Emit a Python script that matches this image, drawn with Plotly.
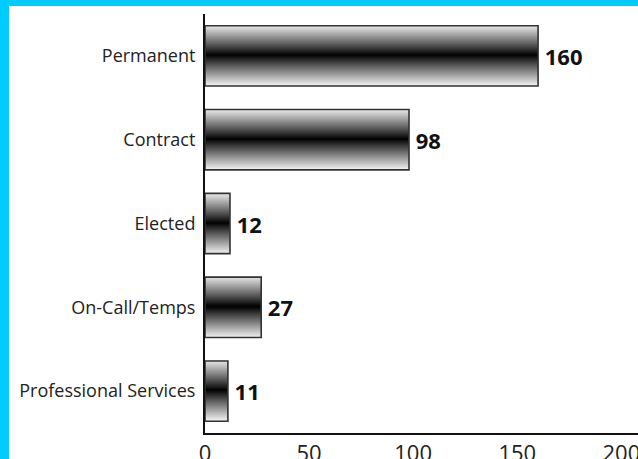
import plotly.graph_objects as go

categories = ["Permanent", "Contract", "Elected", "On-Call/Temps", "Professional Services"]
values = [160, 98, 12, 27, 11]
x_ticks = [0, 50, 100, 150, 200]

BAR_W = 0.72
N_STRIPS = 60
fig = go.Figure()

# gradient strips (light at edges, black in the middle)
sw = BAR_W / N_STRIPS
for i in range(N_STRIPS):
    t = ((i + 0.5) / N_STRIPS) * 2 - 1
    g = int(round(238 * abs(t) ** 0.95))
    fig.add_trace(go.Bar(
        x=values, y=categories, orientation="h",
        width=sw * 1.6, offset=-BAR_W / 2 + i * sw - sw * 0.3,
        marker=dict(color=f"rgb({g},{g},{g})", line=dict(width=0)),
        hoverinfo="skip", showlegend=False,
    ))

# outline + value labels
fig.add_trace(go.Bar(
    x=values, y=categories, orientation="h",
    width=BAR_W, offset=-BAR_W / 2,
    marker=dict(color="rgba(0,0,0,0)", line=dict(color="#333333", width=1.6)),
    text=[f"\u2009{v}" for v in values], textposition="outside",
    textfont=dict(family="Open Sans", size=22, color="#111111", weight="bold"),
    cliponaxis=False, showlegend=False, hoverinfo="skip",
))

L, T, W, H = 205, 14, 638, 459
B = 26
pw = W - L
ph = H - T - B

def px(p):
    return (p - L) / pw

def py(p):
    return (H - B - p) / ph

fig.update_layout(
    width=W, height=H,
    margin=dict(l=L, r=0, t=T, b=B, pad=0, autoexpand=False),
    barmode="overlay",
    paper_bgcolor="white", plot_bgcolor="white",
    showlegend=False,
    xaxis=dict(
        range=[0, 208], tickvals=x_ticks, ticktext=[str(v) for v in x_ticks],
        showgrid=False, zeroline=False, showline=True, linecolor="#111111", linewidth=2,
        ticks="", automargin=False, ticklabeloverflow="allow",
        tickfont=dict(family="Open Sans", size=22, color="#222222"),
    ),
    yaxis=dict(
        categoryorder="array", categoryarray=categories,
        range=[4.5, -0.5], showgrid=False, zeroline=False,
        showline=True, linecolor="#111111", linewidth=2,
        ticks="", ticklabelstandoff=4, automargin=False,
        tickfont=dict(family="Open Sans", size=18, color="#222222"),
    ),
    shapes=[
        dict(type="rect", xref="paper", yref="paper",
             x0=px(0), x1=px(9), y0=py(H + 5), y1=py(-5),
             fillcolor="#00CCFF", line=dict(width=0), layer="above"),
        dict(type="rect", xref="paper", yref="paper",
             x0=px(0), x1=px(W + 5), y0=py(6), y1=py(-5),
             fillcolor="#00CCFF", line=dict(width=0), layer="above"),
    ],
)

fig.write_html("out.html")
